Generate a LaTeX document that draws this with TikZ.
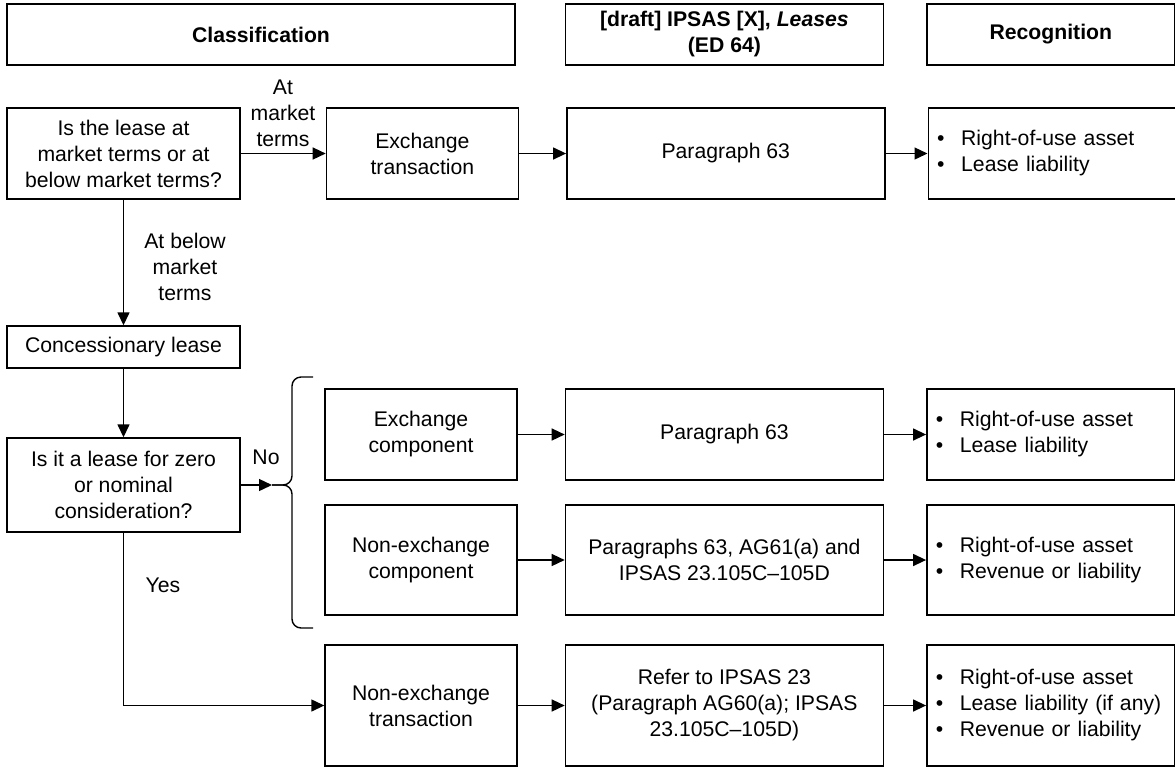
\documentclass[tikz,border=0pt]{standalone}
\usepackage{fontspec}
\setmainfont{Liberation Sans}
\usepackage{tikz}
\usetikzlibrary{calc}
\usetikzlibrary{arrows.meta,positioning}

\newcommand{\bulitem}{\makebox[12pt][l]{\textbullet}}

\begin{document}
\begin{tikzpicture}[x=0.5pt, y=-0.5pt, line width=0.7pt, >={Triangle[length=6.5pt,width=6pt]}, font=\fontsize{10.6pt}{13pt}\selectfont]
      \tikzstyle{head}=[draw, rectangle, minimum height=30.5pt, font=\fontsize{10.6pt}{13pt}\selectfont\bfseries, align=center, inner sep=0pt]
      \tikzstyle{block}=[draw, rectangle, align=center, inner sep=2pt]
      \tikzstyle{list}=[draw, rectangle, align=left, text width=115pt, inner xsep=4.5pt]
      \tikzstyle{lbl}=[align=center, inner sep=0pt]

      \useasboundingbox (0,0) rectangle (1175,768);

      % column headings
      \node[head, minimum width=254pt] (H1) at (261,34.5) {Classification};
      \node[head, minimum width=159pt, right=24.5pt of H1] (H2) {[draft] IPSAS [X], \textit{Leases}\\(ED 64)};
      \node[head, minimum width=124pt, right=21pt of H2] (H3) {Recognition};

      % market terms
      \node[block, minimum width=116.5pt, minimum height=45.5pt] (Q1) at (123.5,153.5) {Is the lease at\\market terms or at\\below market terms?};
      \node[block, minimum width=96pt, minimum height=45.5pt, right=42.5pt of Q1] (E1) {Exchange\\transaction};
      \node[block, minimum width=159pt, minimum height=45.5pt, right=23.5pt of E1] (P1) {Paragraph 63};
      \node[list, minimum height=45.5pt, right=21pt of P1] (R1) {\bulitem Right-of-use asset\\\bulitem Lease liability};

      % below market terms
      \node[block, minimum width=116.5pt, minimum height=21pt] (CL) at (123.5,347) {Concessionary lease};
      \node[block, minimum width=116.5pt, minimum height=47pt] (Q2) at (123.5,485) {Is it a lease for zero\\or nominal\\consideration?};

      \node[block, minimum width=96pt, minimum height=45.5pt] (E2) at (421,434.5) {Exchange\\component};
      \node[block, minimum width=159pt, minimum height=45.5pt, right=23.5pt of E2] (P2) {Paragraph 63};
      \node[list, minimum height=45.5pt, right=21pt of P2] (R2) {\bulitem Right-of-use asset\\\bulitem Lease liability};

      \node[block, minimum width=96pt, minimum height=55pt] (E3) at (421,560) {Non-exchange\\component};
      \node[block, minimum width=159pt, minimum height=55pt, right=23.5pt of E3] (P3) {Paragraphs 63, AG61(a) and\\IPSAS 23.105C--105D};
      \node[list, minimum height=55pt, right=21pt of P3] (R3) {\bulitem Right-of-use asset\\\bulitem Revenue or liability};

      \node[block, minimum width=96pt, minimum height=60.5pt] (E4) at (421,705.5) {Non-exchange\\transaction};
      \node[block, minimum width=159pt, minimum height=60.5pt, right=23.5pt of E4] (P4) {Refer to IPSAS 23\\(Paragraph AG60(a); IPSAS\\23.105C--105D)};
      \node[list, minimum height=60.5pt, right=21pt of P4] (R4) {\bulitem Right-of-use asset\\\bulitem Lease liability (if any)\\\bulitem Revenue or liability};

      % labels
      \node[lbl] (L1) at (283,113) {At\\market\\terms};
      \node[lbl] (L2) at (185,267) {At below\\market\\terms};
      \node[lbl] (L3) at (266,457) {No};
      \node[lbl] (L4) at (163,585) {Yes};

      % brace
      \coordinate (T) at (272,485);
      \coordinate (BT) at (313,377);
      \coordinate (BB) at (313,628);
      \draw[rounded corners=4.5pt] (BT) -| (292,485) -- (T);
      \draw[rounded corners=4.5pt] (BB) -| (292,485) -- (T);

      \draw[->] (Q1) -- (E1);
      \draw[->] (E1) -- (P1);
      \draw[->] (P1) -- (R1);
      \draw[->] (Q1) -- (CL);
      \draw[->] (CL) -- (Q2);
      \draw[->] (Q2) -- (T);
      \draw[->] (E2) -- (P2);
      \draw[->] (P2) -- (R2);
      \draw[->] (E3) -- (P3);
      \draw[->] (P3) -- (R3);
      \draw[->] (Q2.south) |- (E4.west);
      \draw[->] (E4) -- (P4);
      \draw[->] (P4) -- (R4);
    \end{tikzpicture}
\end{document}
